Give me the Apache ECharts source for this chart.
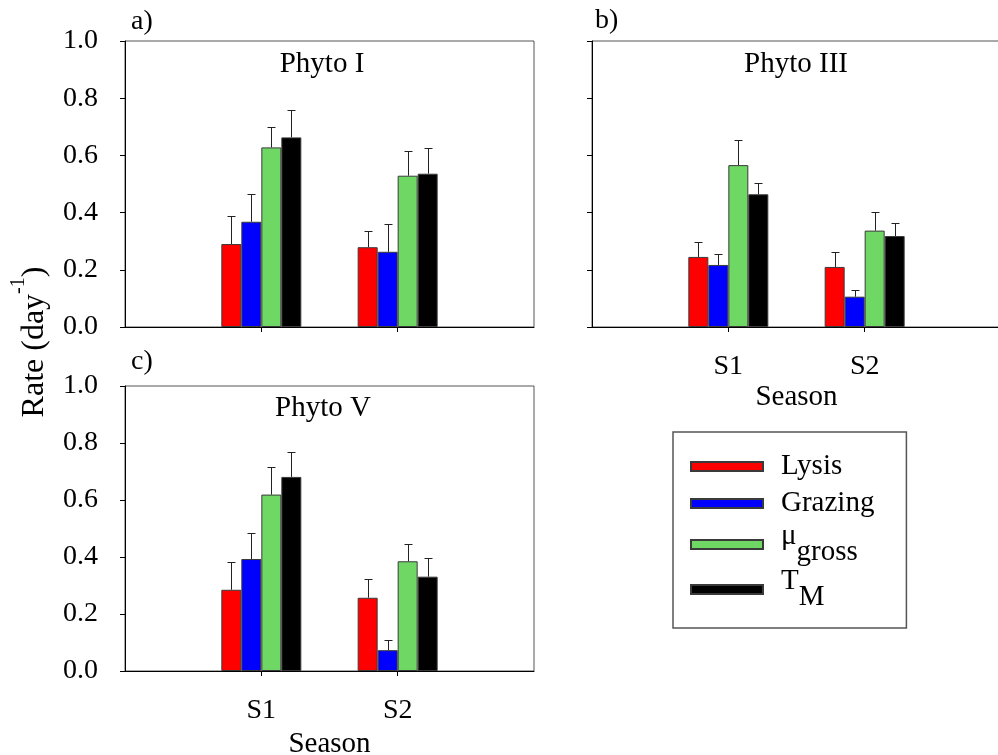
<!DOCTYPE html>
<html>
<head>
<meta charset="utf-8">
<script src="https://cdn.jsdelivr.net/npm/echarts@6/dist/echarts.min.js"></script>
<style>
  html, body { margin: 0; padding: 0; background: #ffffff; }
  #chart { width: 998px; height: 755px; }
</style>
</head>
<body>
<div id="chart"></div>
<script>
// Seasons and rate types
const seasons = ['S1', 'S2'];
const seriesNames = ['Lysis', 'Grazing', 'μgross', 'TM'];
const seriesColors = ['#ff0000', '#0000ff', '#6fd865', '#000000'];

// Mean rates (day^-1), one row per rate type: [S1, S2]
const phytoIMean   = [[0.290, 0.279], [0.368, 0.263], [0.628, 0.529], [0.663, 0.536]];
const phytoIIIMean = [[0.245, 0.210], [0.217, 0.106], [0.566, 0.337], [0.464, 0.318]];
const phytoVMean   = [[0.285, 0.257], [0.393, 0.073], [0.619, 0.385], [0.681, 0.331]];

// Standard deviations, same layout
const phytoISd   = [[0.099, 0.058], [0.096, 0.097], [0.070, 0.088], [0.097, 0.089]];
const phytoIIISd = [[0.053, 0.053], [0.038, 0.022], [0.089, 0.065], [0.041, 0.046]];
const phytoVSd   = [[0.096, 0.065], [0.092, 0.035], [0.096, 0.061], [0.088, 0.065]];

const panelTitles = ['Phyto I', 'Phyto III', 'Phyto V'];
const panelTags = ['a)', 'b)', 'c)'];

const FONT = '"Liberation Serif", "Times New Roman", serif';
const BAR_W = 20;

const panels = [
  { mean: phytoIMean,   sd: phytoISd,   grid: { left: 125, top: 41,  width: 409, height: 286 }, showX: false, nameGap: 56 },
  { mean: phytoIIIMean, sd: phytoIIISd, grid: { left: 592, top: 41,  width: 409, height: 286 }, showX: true,  nameGap: 56 },
  { mean: phytoVMean,   sd: phytoVSd,   grid: { left: 125, top: 386, width: 409, height: 285 }, showX: true,  nameGap: 59 }
];

// Padded category list so S1 and S2 sit at one and two thirds of the axis
const xCats = [''].concat(seasons, ['']);

const grids = [], xAxes = [], yAxes = [], series = [];

panels.forEach((p, pi) => {
  grids.push(Object.assign({
    show: true, borderColor: '#555', borderWidth: 1, backgroundColor: 'transparent',
    outerBoundsMode: 'none', containLabel: false
  }, p.grid));

  xAxes.push({
    type: 'category', gridIndex: pi, data: xCats, boundaryGap: false,
    name: p.showX ? 'Season' : '', nameLocation: 'middle', nameGap: p.nameGap,
    nameTextStyle: { fontFamily: FONT, fontSize: 29, color: '#000' },
    axisLine: { lineStyle: { color: '#000', width: 1 } },
    axisTick: { show: true, length: 5, interval: (i) => i === 1 || i === 2, lineStyle: { color: '#000' } },
    axisLabel: { show: p.showX, interval: 0, margin: 26, fontFamily: FONT, fontSize: 28, color: '#000' },
    splitLine: { show: false }
  });

  yAxes.push({
    type: 'value', gridIndex: pi, min: 0, max: 1, interval: 0.2,
    axisLine: { show: true, lineStyle: { color: '#000', width: 1 } },
    axisTick: { show: true, length: 5, lineStyle: { color: '#000' } },
    axisLabel: { show: pi !== 1, margin: 27, fontFamily: FONT, fontSize: 28, color: '#000',
                 formatter: (v) => v.toFixed(1) },
    splitLine: { show: false }
  });

  seriesNames.forEach((name, k) => {
    series.push({
      type: 'bar', name: name, xAxisIndex: pi, yAxisIndex: pi,
      barWidth: BAR_W, barGap: '0%',
      data: seasons.map((s, i) => [s, p.mean[k][i]]),
      itemStyle: { color: seriesColors[k], borderColor: '#3a3a3a', borderWidth: 1 },
      emphasis: { disabled: true },
      animation: false
    });
  });

  // Error bars: mean up to mean + SD, capped
  const errData = [];
  seriesNames.forEach((name, k) => {
    seasons.forEach((s, i) => {
      errData.push([s, p.mean[k][i], p.mean[k][i] + p.sd[k][i], k]);
    });
  });
  series.push({
    type: 'custom', xAxisIndex: pi, yAxisIndex: pi, z: 5,
    data: errData,
    encode: { x: 0, y: [1, 2] },
    renderItem: (params, api) => {
      const cat = api.value(0);
      const base = api.coord([cat, api.value(1)]);
      const top = api.coord([cat, api.value(2)]);
      const x = Math.round(base[0] + (api.value(3) - 1.5) * BAR_W) + 0.5;
      const yb = base[1], yt = Math.round(top[1]) + 0.5;
      const st = { stroke: '#222', lineWidth: 1 };
      return {
        type: 'group',
        children: [
          { type: 'line', shape: { x1: x, y1: yb, x2: x, y2: yt }, style: st },
          { type: 'line', shape: { x1: x - 4, y1: yt, x2: x + 4, y2: yt }, style: st }
        ]
      };
    },
    animation: false,
    silent: true
  });
});

// Panel titles and tags
const graphics = [];
const titlePos = [[322, 64], [796, 64], [323, 408]];
const tagPos = [[131, 22], [595, 21], [131, 362]];
panelTitles.forEach((t, i) => {
  graphics.push({ type: 'text', x: titlePos[i][0], y: titlePos[i][1],
    style: { text: t, fontFamily: FONT, fontSize: 29, fill: '#000', align: 'center', verticalAlign: 'middle' } });
  graphics.push({ type: 'text', x: tagPos[i][0], y: tagPos[i][1],
    style: { text: panelTags[i], fontFamily: FONT, fontSize: 28, fill: '#000', align: 'left', verticalAlign: 'middle' } });
});

// Shared y-axis title with superscript
graphics.push({
  type: 'text', x: 30, y: 342, rotation: Math.PI / 2,
  style: {
    text: '{n|Rate (day}{sup|-1}{n|)}',
    align: 'center', verticalAlign: 'middle',
    rich: {
      n: { fontFamily: FONT, fontSize: 32, fill: '#000', verticalAlign: 'bottom', lineHeight: 42 },
      sup: { fontFamily: FONT, fontSize: 20, fill: '#000', verticalAlign: 'top' }
    }
  }
});

const legendLabels = {
  'Lysis': '{n|Lysis}',
  'Grazing': '{n|Grazing}',
  'μgross': '{b|μ}{s|gross}',
  'TM': '{b|T}{s|M}'
};

const chart = echarts.init(document.getElementById('chart'), null, { renderer: 'canvas' });
chart.setOption({
  animation: false,
  backgroundColor: '#ffffff',
  grid: grids,
  xAxis: xAxes,
  yAxis: yAxes,
  series: series,
  graphic: graphics,
  legend: {
    data: seriesNames,
    orient: 'vertical',
    left: 673, top: 432,
    itemWidth: 72, itemHeight: 9, itemGap: 0,
    padding: [16, 32, 16, 17],
    borderColor: '#555', borderWidth: 1.5,
    icon: 'rect',
    selectedMode: false,
    formatter: (name) => legendLabels[name],
    textStyle: {
      color: '#000', fontFamily: FONT, fontSize: 29, padding: [0, 0, 0, 13],
      rich: {
        // transparent box keeps single-line entries as tall as the subscript ones need
        n: { fontFamily: FONT, fontSize: 29, color: '#000', padding: [4, 0, 4, 0], backgroundColor: 'rgba(255,255,255,0)' },
        b: { fontFamily: FONT, fontSize: 29, color: '#000', verticalAlign: 'top', lineHeight: 45 },
        s: { fontFamily: FONT, fontSize: 29, color: '#000', verticalAlign: 'bottom' }
      }
    }
  }
});
</script>
</body>
</html>
